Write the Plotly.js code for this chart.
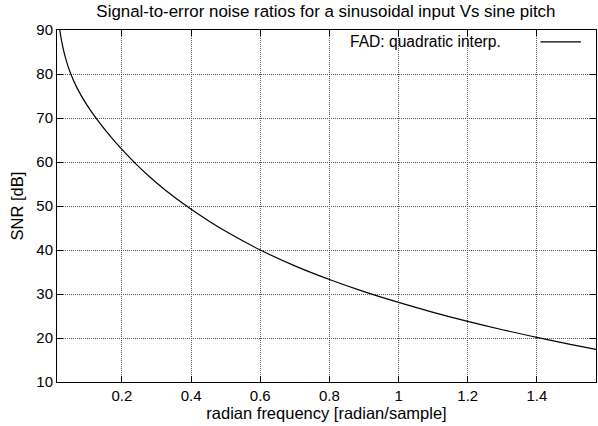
<!DOCTYPE html>
<html>
<head>
<meta charset="utf-8">
<script src="https://cdn.plot.ly/plotly-3.0.1.min.js"></script>
<style>html,body{margin:0;padding:0;background:#fff;}#chart{width:598px;height:426px;}</style>
</head>
<body>
<div id="chart"></div>
<script>
// radian frequency [radian/sample]
const freq = [0.012, 0.02, 0.03, 0.04, 0.05, 0.07, 0.1, 0.13, 0.165, 0.2, 0.238, 0.28, 0.325, 0.392, 0.45, 0.5, 0.6, 0.7, 0.8, 0.9, 1.0, 1.1, 1.2, 1.3, 1.4, 1.5, 1.5708];
// SNR [dB]
const snr = [95.4, 90.1, 85.8, 82.8, 80.45, 76.85, 72.8, 69.45, 66.0, 62.85, 59.75, 56.65, 53.65, 49.7, 46.65, 44.25, 40.0, 36.4, 33.3, 30.55, 28.1, 25.84, 23.78, 21.88, 20.13, 18.5, 17.4];
const seriesName = 'FAD: quadratic interp.';
const xTicks = [0.2, 0.4, 0.6, 0.8, 1, 1.2, 1.4];
const xTickText = ['0.2', '0.4', '0.6', '0.8', '1', '1.2', '1.4'];
const yTicks = [10, 20, 30, 40, 50, 60, 70, 80, 90];

const fam = 'Liberation Sans, Arial, sans-serif';
const tickFont = {family: fam, size: 15, color: '#000'};
const titleFont = {family: fam, size: 16.9, color: '#000'};
const axisTitleFont = {family: fam, size: 16.5, color: '#000'};
const legendFont = {family: 'Liberation Sans Narrow, Arial Narrow, sans-serif', size: 15.6, color: '#000'};

const trace = {
  x: freq, y: snr, type: 'scatter', mode: 'lines', name: seriesName,
  line: {color: '#000', width: 1.2, shape: 'spline', smoothing: 1},
  showlegend: false
};

const axisCommon = {
  showline: true, linecolor: '#000', linewidth: 1, mirror: 'allticks',
  ticks: 'inside', ticklen: 6, tickcolor: '#000', tickwidth: 1,
  showgrid: true, gridcolor: '#555', griddash: '1px,1px', gridwidth: 1,
  zeroline: false, tickfont: tickFont
};

const layout = {
  width: 598, height: 426,
  margin: {l: 57, r: 2, t: 30, b: 44},
  paper_bgcolor: '#fff', plot_bgcolor: '#fff',
  font: tickFont,
  title: {text: 'Signal-to-error noise ratios for a sinusoidal input Vs sine pitch', font: titleFont, x: 0.545, xanchor: 'center', y: 0.974, yanchor: 'middle'},
  xaxis: Object.assign({}, axisCommon, {
    range: [0.0123, Math.PI / 2], tickmode: 'array', tickvals: xTicks, ticktext: xTickText,
    title: {text: 'radian frequency [radian/sample]', font: axisTitleFont, standoff: 2}
  }),
  yaxis: Object.assign({}, axisCommon, {
    range: [10, 90], tickmode: 'array', tickvals: yTicks,
    title: {text: 'SNR [dB]', font: axisTitleFont, standoff: 8}
  }),
  showlegend: false,
  annotations: [{
    xref: 'paper', yref: 'paper', x: 0.827, y: 0.968, xanchor: 'right', yanchor: 'middle',
    text: seriesName, showarrow: false, font: legendFont
  }],
  shapes: [{
    type: 'line', xref: 'paper', yref: 'paper', x0: 0.897, x1: 0.972, y0: 0.966, y1: 0.966,
    line: {color: '#000', width: 1.2}
  }]
};

Plotly.newPlot('chart', [trace], layout, {displayModeBar: false, staticPlot: true});
</script>
</body>
</html>
